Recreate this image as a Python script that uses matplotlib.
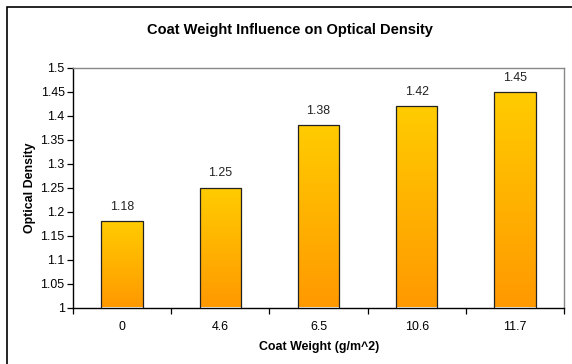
import numpy as np
import matplotlib
matplotlib.use("Agg")
import matplotlib.pyplot as plt
from matplotlib.colors import LinearSegmentedColormap
from matplotlib.patches import Rectangle

categories = ["0", "4.6", "6.5", "10.6", "11.7"]
values = [1.18, 1.25, 1.38, 1.42, 1.45]
y_ticks = [1.0, 1.05, 1.1, 1.15, 1.2, 1.25, 1.3, 1.35, 1.4, 1.45, 1.5]
y_tick_labels = ["1", "1.05", "1.1", "1.15", "1.2", "1.25", "1.3", "1.35", "1.4", "1.45", "1.5"]

plt.rcParams['font.family'] = ['Liberation Sans', 'DejaVu Sans']

W, H = 572, 364
fig = plt.figure(figsize=(W / 100, H / 100), dpi=100)
fig.patch.set_facecolor("white")

# outer chart border (only top/left visible in crop)
fig.patches.append(Rectangle((7 / W, -0.1), 2.0, (H - 7) / H + 0.1, transform=fig.transFigure,
                             fill=False, edgecolor="black", linewidth=1.2))

left, right, top, bottom = 73, 564, 68, 307.5
ax = fig.add_axes([left / W, 1 - bottom / H, (right - left) / W, (bottom - top) / H])

fs = 8.9
x = np.arange(len(categories))
bw = 0.42
cmap = LinearSegmentedColormap.from_list("g", ["#FF9900", "#FFCC00"])
grad = np.linspace(0, 1, 256).reshape(-1, 1)
bars = ax.bar(x, values, width=bw, bottom=0, color="none", edgecolor="#222222", linewidth=0.9, zorder=3)
for b, v in zip(bars, values):
    x0 = b.get_x()
    im = ax.imshow(grad, extent=[x0, x0 + bw, 1.0, v], origin="lower", aspect="auto",
                   cmap=cmap, zorder=2)
    im.set_clip_path(b)
    ax.annotate(f"{v:.2f}", (b.get_x() + bw / 2, v), xytext=(0, 6), textcoords="offset points",
                ha="center", va="bottom", fontsize=fs, color="#222222")

ax.set_xlim(-0.5, len(categories) - 0.5)
ax.set_ylim(1.0, 1.5)
ax.set_yticks(y_ticks)
ax.set_yticklabels(y_tick_labels, fontsize=fs)
ax.set_xticks(x)
ax.set_xticklabels(categories, fontsize=fs)
ax.tick_params(axis="x", length=0, pad=10)
ax.set_xticks(np.arange(-0.5, len(categories)), minor=True)
ax.tick_params(axis="x", which="minor", length=4, width=0.9, direction="out")
ax.tick_params(axis="y", length=4, width=0.9, direction="out", pad=2)

for s in ["top", "right"]:
    ax.spines[s].set_color("#888888")
    ax.spines[s].set_linewidth(1.0)
for s in ["left", "bottom"]:
    ax.spines[s].set_color("black")
    ax.spines[s].set_linewidth(1.0)

fig.text(290 / W, 1 - 30 / H, "Coat Weight Influence on Optical Density", ha="center", va="center",
         fontsize=10.5, fontweight="bold")
fig.text(319.5 / W, 1 - 347 / H, "Coat Weight (g/m^2)", ha="center", va="center",
         fontsize=fs, fontweight="bold")
fig.text(30 / W, 1 - 188 / H, "Optical Density", ha="center", va="center", rotation=90,
         fontsize=fs, fontweight="bold")

fig.savefig("out.png", dpi=100)
